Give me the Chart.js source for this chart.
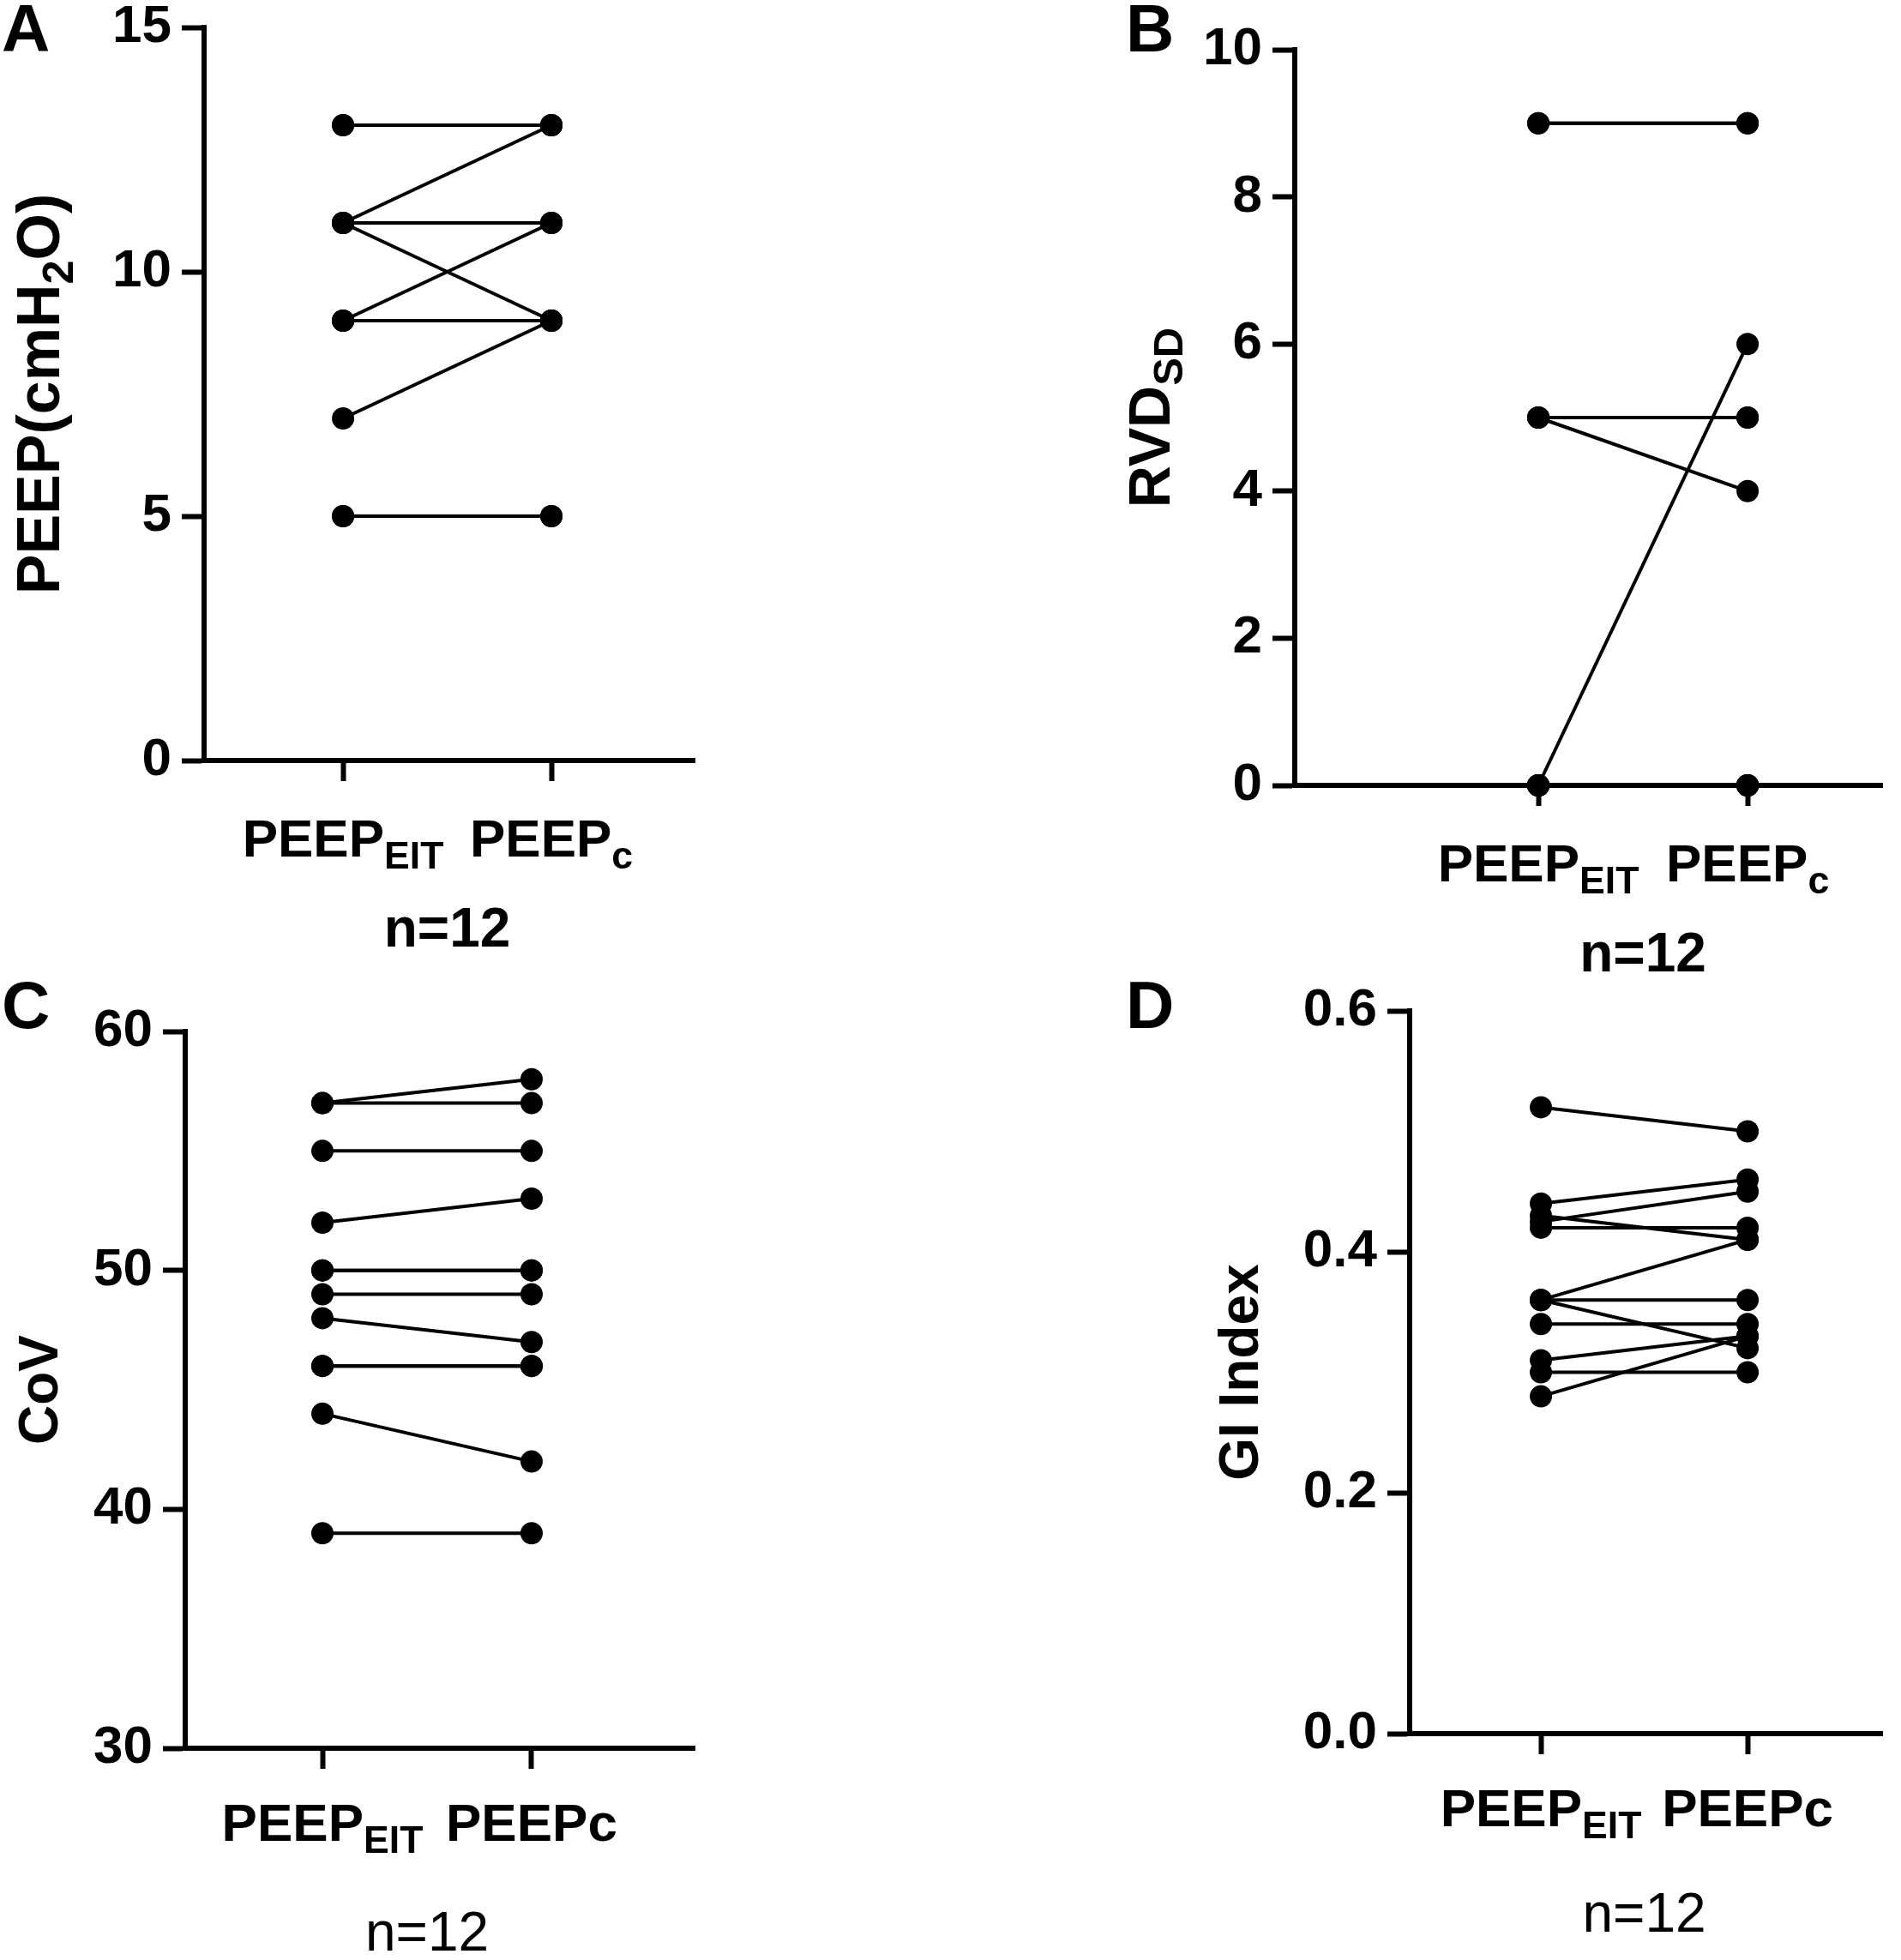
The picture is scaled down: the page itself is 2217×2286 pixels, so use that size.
<!DOCTYPE html>
<html>
<head>
<meta charset="utf-8">
<script src="https://cdn.jsdelivr.net/npm/chart.js@4"></script>
<style>
  body { margin: 0; background: #fff; }
  #wrap { position: relative; width: 2217px; height: 2286px; }
  canvas { position: absolute; left: 0; top: 0; }
</style>
</head>
<body>
<div id="wrap">
  <canvas id="chartA" width="2217" height="2286"></canvas>
  <canvas id="chartB" width="2217" height="2286"></canvas>
  <canvas id="chartC" width="2217" height="2286"></canvas>
  <canvas id="chartD" width="2217" height="2286"></canvas>
</div>
<script>
  // categories, "_{..}" marks a subscript
  const categoriesAB = ['PEEP_{EIT}', 'PEEP_{c}'];
  const categoriesCD = ['PEEP_{EIT}', 'PEEPc'];

  // one entry per patient (n=12): value at PEEP_EIT and at PEEP_c
  const peepEit = [13, 13, 11, 11, 11, 9, 9, 9, 7, 5, 5, 11];
  const peepC   = [13, 13, 13, 11, 9, 11, 9, 9, 9, 5, 5, 11];

  const rvdEit = [9, 9, 5, 5, 5, 0, 0, 0, 0, 0, 0, 0];
  const rvdC   = [9, 9, 5, 5, 4, 6, 0, 0, 0, 0, 0, 0];

  const covEit = [57, 57, 55, 52, 50, 50, 49, 48, 46, 46, 44, 39];
  const covC   = [58, 57, 55, 53, 50, 50, 49, 47, 46, 46, 42, 39];

  const giEit = [0.52, 0.44, 0.43, 0.425, 0.42, 0.36, 0.36, 0.36, 0.34, 0.31, 0.30, 0.28];
  const giC   = [0.50, 0.46, 0.41, 0.45, 0.42, 0.41, 0.36, 0.32, 0.34, 0.33, 0.30, 0.33];

  // y tick values
  const peepTicks = [0, 5, 10, 15];
  const rvdTicks = [0, 2, 4, 6, 8, 10];
  const covTicks = [30, 40, 50, 60];
  const giTicks = [0, 0.2, 0.4, 0.6];

  const FONT = '"Liberation Sans", Arial, sans-serif';
  const W = 2217, H = 2286;
  const YW = 200, XH = 40;

  function parseRich(s) {
    const parts = [];
    const re = /_\{([^}]*)\}/g;
    let last = 0, m;
    while ((m = re.exec(s))) {
      if (m.index > last) parts.push({ t: s.slice(last, m.index), sub: false });
      parts.push({ t: m[1], sub: true });
      last = re.lastIndex;
    }
    if (last < s.length) parts.push({ t: s.slice(last), sub: false });
    return parts;
  }

  // centred at x, baseline at y
  function drawRich(ctx, s, x, y, size, weight) {
    const parts = parseRich(s);
    const font = (sz) => `${weight} ${sz}px ${FONT}`;
    let w = 0;
    parts.forEach(p => {
      ctx.font = font(p.sub ? size * 0.72 : size);
      p.w = ctx.measureText(p.t).width;
      w += p.w;
    });
    let cx = x - w / 2;
    ctx.textAlign = 'left';
    ctx.textBaseline = 'alphabetic';
    parts.forEach(p => {
      ctx.font = font(p.sub ? size * 0.72 : size);
      ctx.fillText(p.t, cx, y + (p.sub ? size * 0.22 : 0));
      cx += p.w;
    });
  }

  const labelsPlugin = {
    id: 'panelLabels',
    afterDraw(chart, args, o) {
      const ctx = chart.ctx;
      const area = chart.chartArea;
      const x = chart.scales.x;
      ctx.save();
      ctx.fillStyle = '#000';

      // panel letter
      ctx.font = `bold 78px ${FONT}`;
      ctx.textAlign = 'left';
      ctx.textBaseline = 'alphabetic';
      ctx.fillText(o.letter, o.letterX, o.letterY);

      // category labels under the ticks
      o.categories.forEach((c, i) => {
        drawRich(ctx, c, x.getPixelForValue(i + 1), area.bottom + o.catOffset, 62, 'bold');
      });

      // n label
      const mid = (x.getPixelForValue(1) + x.getPixelForValue(2)) / 2;
      drawRich(ctx, o.nText, mid, area.bottom + o.nOffset, 64, o.nWeight);

      // rotated y title
      ctx.translate(o.titleX, (area.top + area.bottom) / 2);
      ctx.rotate(-Math.PI / 2);
      drawRich(ctx, o.title, 0, o.titleSize * 0.36, o.titleSize, 'bold');
      ctx.restore();
    }
  };

  function makePanel(id, eit, c, ticks, p) {
    const datasets = eit.map((v, i) => ({
      data: [{ x: 1, y: v }, { x: 2, y: c[i] }],
      showLine: true,
      borderColor: '#000',
      borderWidth: 4,
      pointRadius: 13,
      pointBackgroundColor: '#000',
      pointBorderWidth: 0,
      clip: false
    }));

    return new Chart(document.getElementById(id), {
      type: 'scatter',
      data: { datasets },
      options: {
        responsive: false,
        devicePixelRatio: 1,
        animation: false,
        events: [],
        layout: {
          padding: {
            left: p.area.l - YW,
            top: p.area.t,
            right: W - p.area.r,
            bottom: H - p.area.b - XH
          }
        },
        scales: {
          x: {
            type: 'linear',
            min: p.xMin,
            max: p.xMax,
            afterBuildTicks: (s) => { s.ticks = [{ value: 1 }, { value: 2 }]; },
            afterFit: (s) => { s.height = XH; s.paddingLeft = 0; s.paddingRight = 0; },
            ticks: { display: false },
            grid: { drawOnChartArea: false, drawTicks: true, tickLength: 24, tickWidth: 6, tickColor: '#000' },
            border: { display: true, color: '#000', width: 6 }
          },
          y: {
            min: ticks[0],
            max: ticks[ticks.length - 1],
            afterBuildTicks: (s) => { s.ticks = ticks.map(v => ({ value: v })); },
            afterFit: (s) => { s.width = YW; s.paddingTop = 0; s.paddingBottom = 0; },
            ticks: {
              color: '#000',
              padding: 12,
              font: { family: FONT, size: 62, weight: 'bold' },
              callback: p.tickFmt || ((v) => v)
            },
            grid: { drawOnChartArea: false, drawTicks: true, tickLength: 26, tickWidth: 6, tickColor: '#000' },
            border: { display: true, color: '#000', width: 6 }
          }
        },
        plugins: {
          legend: { display: false },
          tooltip: { enabled: false },
          panelLabels: p.labels
        }
      },
      plugins: [labelsPlugin]
    });
  }

  makePanel('chartA', peepEit, peepC, peepTicks, {
    area: { l: 238, t: 32, r: 810, b: 887 }, xMin: 0.333, xMax: 2.687,
    labels: { letter: 'A', letterX: 2, letterY: 60, categories: categoriesAB, catOffset: 112,
      nText: 'n=12', nOffset: 217, nWeight: 'bold', title: 'PEEP(cmH_{2}O)', titleX: 44, titleSize: 70 }
  });

  makePanel('chartB', rvdEit, rvdC, rvdTicks, {
    area: { l: 1510, t: 58, r: 2195, b: 916 }, xMin: -0.164, xMax: 2.643,
    labels: { letter: 'B', letterX: 1313, letterY: 60, categories: categoriesAB, catOffset: 112,
      nText: 'n=12', nOffset: 217, nWeight: 'bold', title: 'RVD_{SD}', titleX: 1340, titleSize: 68 }
  });

  makePanel('chartC', covEit, covC, covTicks, {
    area: { l: 216, t: 1203, r: 810, b: 2039 }, xMin: 0.344, xMax: 2.779,
    labels: { letter: 'C', letterX: 2, letterY: 1199, categories: categoriesCD, catOffset: 108,
      nText: 'n=12', nOffset: 236, nWeight: 'normal', title: 'CoV', titleX: 44, titleSize: 64 }
  });

  makePanel('chartD', giEit, giC, giTicks, {
    area: { l: 1644, t: 1179, r: 2195, b: 2022 }, xMin: 0.365, xMax: 2.651,
    tickFmt: (v) => v.toFixed(1),
    labels: { letter: 'D', letterX: 1313, letterY: 1199, categories: categoriesCD, catOffset: 108,
      nText: 'n=12', nOffset: 231, nWeight: 'normal', title: 'GI Index', titleX: 1444, titleSize: 64 }
  });
</script>
</body>
</html>
